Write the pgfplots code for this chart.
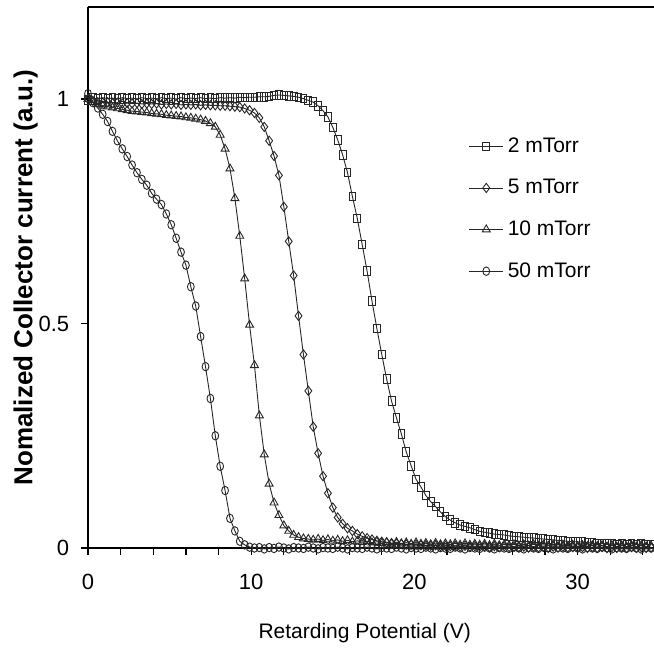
\documentclass[border=0pt]{standalone}
\usepackage{pgfplots}
\pgfplotsset{compat=1.18}
\usepackage{pgfplotstable}
\usepackage{fontspec}
\setmainfont{Liberation Sans}

\pgfplotstableread{
x A B C D
0.0 0.998 1.000 1.000 1.012
0.3 1.002 0.996 0.993 0.992
0.6 1.000 0.993 0.988 0.980
0.9 1.003 0.992 0.985 0.966
1.2 1.001 0.993 0.983 0.950
1.5 1.002 0.991 0.981 0.928
1.8 1.000 0.992 0.979 0.907
2.1 1.003 0.990 0.977 0.889
2.4 1.001 0.991 0.975 0.872
2.7 1.002 0.990 0.973 0.853
3.0 1.000 0.991 0.972 0.836
3.3 1.003 0.989 0.971 0.821
3.6 1.001 0.990 0.970 0.808
3.9 1.002 0.989 0.968 0.790
4.2 1.000 0.990 0.967 0.777
4.5 1.003 0.988 0.966 0.765
4.8 1.001 0.989 0.964 0.744
5.1 1.002 0.988 0.963 0.720
5.4 1.000 0.989 0.962 0.690
5.7 1.003 0.987 0.961 0.659
6.0 1.001 0.988 0.959 0.630
6.3 1.002 0.987 0.958 0.582
6.6 1.001 0.988 0.956 0.539
6.9 1.003 0.986 0.954 0.471
7.2 1.001 0.987 0.951 0.404
7.5 1.002 0.986 0.946 0.333
7.8 1.001 0.986 0.938 0.250
8.1 1.003 0.985 0.920 0.182
8.4 1.002 0.985 0.889 0.128
8.7 1.003 0.984 0.845 0.066
9.0 1.002 0.983 0.779 0.038
9.3 1.004 0.982 0.695 0.015
9.6 1.003 0.979 0.600 0.007
9.9 1.004 0.975 0.497 0.002
10.2 1.004 0.969 0.407 0.000
10.5 1.005 0.958 0.295 0.001
10.8 1.005 0.938 0.208 -0.002
11.1 1.006 0.907 0.143 0.001
11.4 1.008 0.873 0.101 -0.001
11.7 1.009 0.830 0.073 0.002
12.0 1.008 0.760 0.050 0.000
12.3 1.007 0.683 0.038 -0.002
12.6 1.006 0.607 0.029 0.001
12.9 1.004 0.517 0.024 0.000
13.2 1.001 0.431 0.021 -0.001
13.5 0.997 0.350 0.020 0.002
13.8 0.993 0.270 0.018 0.000
14.1 0.985 0.211 0.020 -0.002
14.4 0.974 0.160 0.017 0.001
14.7 0.960 0.122 0.019 0.000
15.0 0.937 0.090 0.016 -0.001
15.3 0.909 0.068 0.018 0.002
15.6 0.876 0.054 0.015 0.000
15.9 0.836 0.044 0.017 -0.002
16.2 0.783 0.038 0.014 0.001
16.5 0.734 0.031 0.016 0.000
16.8 0.676 0.026 0.013 -0.001
17.1 0.617 0.022 0.015 0.002
17.4 0.550 0.019 0.012 0.000
17.7 0.489 0.016 0.014 -0.002
18.0 0.431 0.014 0.011 0.001
18.3 0.376 0.012 0.013 0.000
18.6 0.327 0.011 0.010 -0.001
18.9 0.290 0.010 0.013 0.002
19.2 0.254 0.009 0.010 0.000
19.5 0.214 0.008 0.012 -0.002
19.8 0.183 0.007 0.009 0.001
20.1 0.153 0.007 0.012 0.000
20.4 0.136 0.006 0.009 -0.001
20.7 0.117 0.006 0.011 0.002
21.0 0.103 0.005 0.008 0.000
21.3 0.092 0.006 0.011 -0.002
21.6 0.080 0.004 0.008 0.001
21.9 0.070 0.005 0.010 0.000
22.2 0.062 0.004 0.008 -0.001
22.5 0.056 0.005 0.010 0.002
22.8 0.051 0.003 0.007 0.000
23.1 0.048 0.005 0.010 -0.002
23.4 0.045 0.003 0.007 0.001
23.7 0.041 0.004 0.009 0.000
24.0 0.037 0.003 0.007 -0.001
24.3 0.035 0.004 0.009 0.002
24.6 0.033 0.002 0.006 0.000
24.9 0.031 0.004 0.009 -0.002
25.2 0.030 0.002 0.006 0.001
25.5 0.029 0.004 0.008 0.000
25.8 0.027 0.002 0.006 -0.001
26.1 0.026 0.003 0.008 0.002
26.4 0.025 0.002 0.005 0.000
26.7 0.024 0.003 0.008 -0.002
27.0 0.023 0.001 0.005 0.001
27.3 0.022 0.003 0.008 0.000
27.6 0.021 0.001 0.005 -0.001
27.9 0.020 0.003 0.007 0.002
28.2 0.019 0.001 0.005 0.000
28.5 0.018 0.003 0.007 -0.002
28.8 0.017 0.001 0.004 0.001
29.1 0.016 0.003 0.007 0.000
29.4 0.015 0.001 0.004 -0.001
29.7 0.014 0.002 0.007 0.002
30.0 0.014 0.001 0.004 0.000
30.3 0.013 0.002 0.006 -0.002
30.6 0.012 0.000 0.004 0.001
30.9 0.011 0.002 0.006 0.000
31.2 0.010 0.000 0.004 -0.001
31.5 0.010 0.002 0.006 0.002
31.8 0.009 0.000 0.003 0.000
32.1 0.009 0.002 0.006 -0.002
32.4 0.008 0.000 0.003 0.001
32.7 0.009 0.002 0.006 0.000
33.0 0.008 0.000 0.003 -0.001
33.3 0.009 0.002 0.006 0.002
33.6 0.008 0.000 0.003 0.000
33.9 0.009 0.002 0.006 -0.002
34.2 0.008 0.000 0.003 0.001
34.5 0.008 0.001 0.005 0.000
}\datatable

\begin{document}
\begin{tikzpicture}
\begin{axis}[
  scale only axis,
  width=283pt, height=270.5pt,
  xmin=0, xmax=34.68, ymin=0, ymax=1.205,
  axis x line*=bottom, axis y line*=left,
  axis line style={line width=0.6pt, -},
  xtick={0,10,20,30},
  minor xtick={2,4,6,8,12,14,16,18,22,24,26,28,32,34},
  ytick={0,0.5,1},
  tick align=outside,
  major tick length=3.5pt, minor tick length=3.5pt,
  tick style={line width=0.6pt, black},
  /pgf/number format/assume math mode=true,
  ticklabel style={font=\fontsize{11}{13}\selectfont},
  xticklabel style={anchor=center, yshift=-13.5pt},
  yticklabel style={anchor=east, xshift=-2.4pt},
  xlabel={Retarding Potential (V)},
  ylabel={Nomalized Collector current (a.u.)},
  every axis x label/.style={at={(axis description cs:0.489,-0.157)}, anchor=center, font=\fontsize{10.5}{12}\selectfont},
  every axis y label/.style={at={(axis description cs:-0.110,0.5)}, rotate=90, anchor=center, font=\fontsize{13}{15}\selectfont\bfseries},
  clip=false,
  legend style={draw=none, fill=none, at={(axis description cs:0.672,0.627)}, anchor=west,
    row sep=8pt, font=\fontsize{10.5}{12}\selectfont, inner sep=0pt},
  legend cell align=left,
]
\addplot[black!85, line width=0.45pt, mark=square, mark size=1.7pt, mark options={solid, line width=0.45pt, yscale=1.25}] table[x=x, y=A] {\datatable};
\addlegendentry{2 mTorr}
\addplot[black!85, line width=0.45pt, mark=diamond, mark size=2.3pt, mark options={solid, line width=0.45pt}] table[x=x, y=B] {\datatable};
\addlegendentry{5 mTorr}
\addplot[black!85, line width=0.45pt, mark=triangle, mark size=2.3pt, mark options={solid, line width=0.45pt}] table[x=x, y=C] {\datatable};
\addlegendentry{10 mTorr}
\addplot[black!85, line width=0.45pt, mark=o, mark size=1.7pt, mark options={solid, line width=0.45pt, yscale=1.25}] table[x=x, y=D] {\datatable};
\addlegendentry{50 mTorr}
\draw[line width=0.6pt] (rel axis cs:0,1) -- (rel axis cs:1,1);
\coordinate (sw) at (rel axis cs:0,0);
\coordinate (ne) at (rel axis cs:1,1);
\end{axis}
\pgfresetboundingbox
\path[use as bounding box] ([shift={(-44pt,-52.5pt)}]sw) rectangle ([shift={(0pt,3.5pt)}]ne);
\end{tikzpicture}
\end{document}
